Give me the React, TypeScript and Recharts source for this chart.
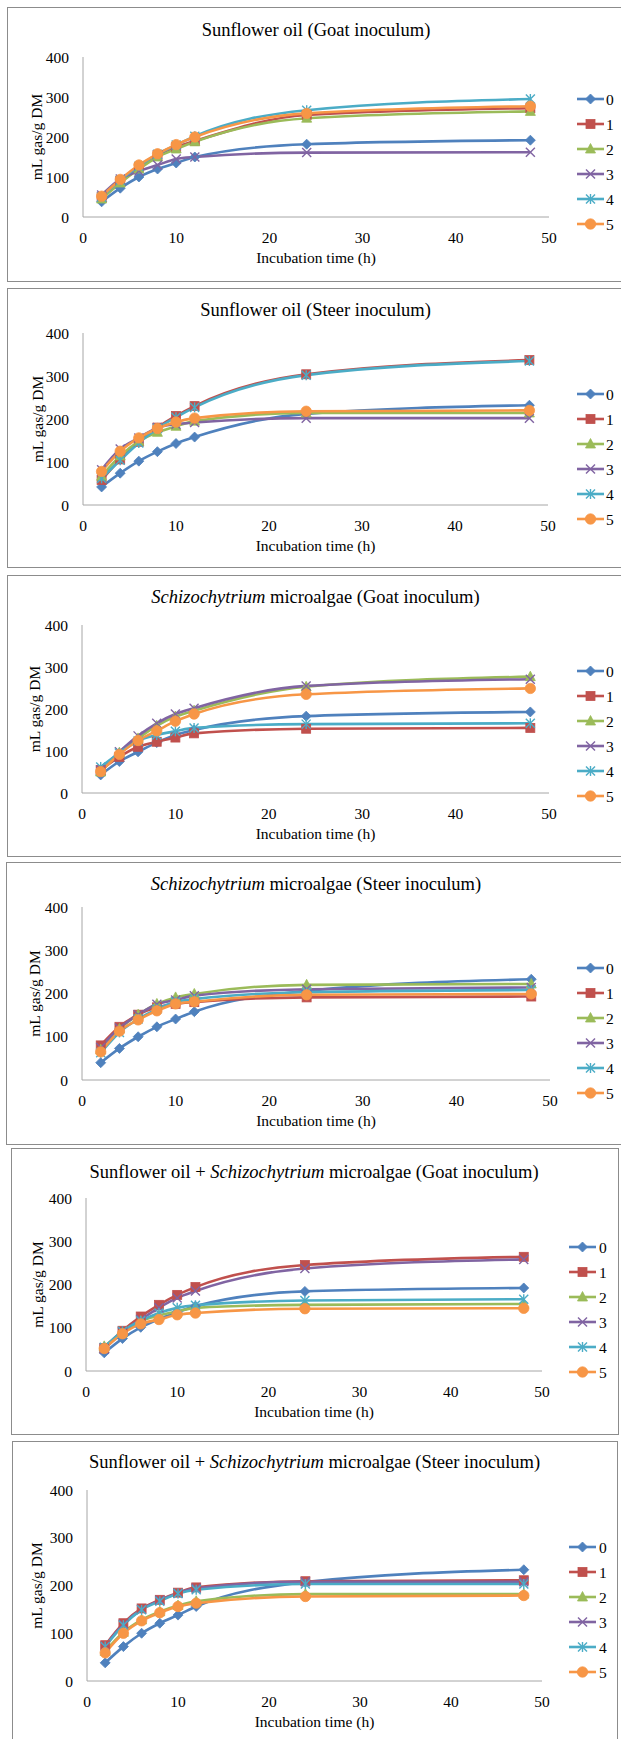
import React from 'react';
import { LineChart, Line, XAxis, YAxis } from 'recharts';

// ---------- data ----------
const HOURS = [2, 4, 6, 8, 10, 12, 24, 48];
const X_TICKS = [0, 10, 20, 30, 40, 50];
const Y_TICKS = [0, 100, 200, 300, 400];
const SERIES_NAMES = ['0', '1', '2', '3', '4', '5'];

// Sunflower oil (Goat inoculum)
const SO_GOAT_0 = [38, 72, 100, 120, 135, 150, 182, 192];
const SO_GOAT_1 = [50, 90, 125, 155, 175, 190, 255, 272];
const SO_GOAT_2 = [45, 85, 120, 150, 170, 188, 247, 264];
const SO_GOAT_3 = [55, 95, 115, 130, 145, 150, 161, 162];
const SO_GOAT_4 = [50, 92, 127, 157, 180, 202, 267, 295];
const SO_GOAT_5 = [52, 94, 130, 158, 181, 200, 259, 277];

// Sunflower oil (Steer inoculum)
const SO_STEER_0 = [42, 74, 102, 124, 143, 158, 212, 232];
const SO_STEER_1 = [58, 106, 147, 180, 207, 230, 304, 337];
const SO_STEER_2 = [67, 114, 148, 169, 183, 195, 214, 214];
const SO_STEER_3 = [82, 130, 156, 180, 188, 192, 202, 202];
const SO_STEER_4 = [62, 104, 144, 178, 204, 227, 302, 335];
const SO_STEER_5 = [78, 125, 156, 178, 193, 202, 218, 220];

// Schizochytrium microalgae (Goat inoculum)
const SC_GOAT_0 = [43, 75, 98, 120, 138, 150, 183, 193];
const SC_GOAT_1 = [55, 86, 110, 122, 132, 142, 153, 155];
const SC_GOAT_2 = [50, 96, 130, 160, 182, 196, 253, 277];
const SC_GOAT_3 = [55, 98, 136, 166, 188, 202, 255, 271];
const SC_GOAT_4 = [62, 95, 124, 138, 147, 155, 164, 166];
const SC_GOAT_5 = [51, 92, 125, 148, 171, 188, 235, 249];

// Schizochytrium microalgae (Steer inoculum)
const SC_STEER_0 = [40, 73, 100, 123, 141, 158, 206, 233];
const SC_STEER_1 = [80, 123, 151, 168, 176, 180, 191, 193];
const SC_STEER_2 = [70, 118, 151, 176, 191, 199, 220, 222];
const SC_STEER_3 = [75, 120, 151, 175, 185, 195, 210, 214];
const SC_STEER_4 = [63, 110, 141, 164, 181, 187, 203, 208];
const SC_STEER_5 = [65, 113, 139, 160, 176, 181, 197, 199];

// Sunflower oil + Schizochytrium microalgae (Goat inoculum)
const MIX_GOAT_0 = [42, 75, 101, 120, 136, 150, 184, 192];
const MIX_GOAT_1 = [53, 93, 126, 153, 176, 194, 245, 264];
const MIX_GOAT_2 = [57, 88, 115, 128, 138, 146, 153, 155];
const MIX_GOAT_3 = [50, 90, 119, 146, 169, 185, 237, 258];
const MIX_GOAT_4 = [55, 92, 116, 134, 146, 152, 163, 166];
const MIX_GOAT_5 = [52, 86, 109, 119, 130, 134, 144, 145];

// Sunflower oil + Schizochytrium microalgae (Steer inoculum)
const MIX_STEER_0 = [38, 72, 100, 121, 138, 156, 207, 233];
const MIX_STEER_1 = [75, 121, 152, 170, 185, 196, 209, 211];
const MIX_STEER_2 = [62, 102, 128, 145, 158, 167, 182, 182];
const MIX_STEER_3 = [73, 119, 150, 169, 184, 194, 208, 208];
const MIX_STEER_4 = [72, 117, 149, 167, 183, 191, 203, 203];
const MIX_STEER_5 = [59, 100, 126, 143, 156, 163, 177, 179];

// ---------- styles ----------
const COLORS = ['#4F81BD', '#C0504D', '#9BBB59', '#8064A2', '#4BACC6', '#F79646'];
const MARKERS = ['diamond', 'square', 'triangle', 'x', 'star', 'circle'];
const FONT = '"Liberation Serif", "Times New Roman", serif';
const AXIS = '#A6A6A6';
const BORDER = '#8C8C8C';

type Geo = {
  top: number; bottom: number; left: number; right: number;
  plotL: number; plotR: number; plotT: number; plotB: number;
  titleY: number; legX: number; legTextX: number; legY: number; yLabelX: number;
};

const buildRows = (series: number[][]) =>
  HOURS.map((t, i) => {
    const row: Record<string, number> = { t };
    series.forEach((s, k) => { row['s' + k] = s[i]; });
    return row;
  });

function Marker({ shape, cx, cy, color }: { shape: string; cx: number; cy: number; color: string }) {
  switch (shape) {
    case 'diamond':
      return <polygon points={`${cx},${cy - 5} ${cx + 5},${cy} ${cx},${cy + 5} ${cx - 5},${cy}`} fill={color} stroke={color} strokeWidth={0.8} />;
    case 'square':
      return <rect x={cx - 4.5} y={cy - 4.5} width={9} height={9} fill={color} stroke={color} strokeWidth={0.8} />;
    case 'triangle':
      return <polygon points={`${cx},${cy - 5.5} ${cx + 5},${cy + 4} ${cx - 5},${cy + 4}`} fill={color} stroke={color} strokeWidth={0.8} />;
    case 'x':
      return (
        <g stroke={color} strokeWidth={1.4}>
          <line x1={cx - 4.5} y1={cy - 4.5} x2={cx + 4.5} y2={cy + 4.5} />
          <line x1={cx - 4.5} y1={cy + 4.5} x2={cx + 4.5} y2={cy - 4.5} />
        </g>
      );
    case 'star':
      return (
        <g stroke={color} strokeWidth={1.4}>
          <line x1={cx - 4.5} y1={cy - 4.5} x2={cx + 4.5} y2={cy + 4.5} />
          <line x1={cx - 4.5} y1={cy + 4.5} x2={cx + 4.5} y2={cy - 4.5} />
          <line x1={cx} y1={cy - 5} x2={cx} y2={cy + 5} />
        </g>
      );
    default:
      return <circle cx={cx} cy={cy} r={5.2} fill={color} stroke={color} strokeWidth={0.8} />;
  }
}

const makeDot = (k: number) => (props: any) => {
  const { cx, cy, index } = props;
  if (cx == null || cy == null) return <g key={`d${k}-${index}`} />;
  return (
    <g key={`d${k}-${index}`}>
      <Marker shape={MARKERS[k]} cx={cx} cy={cy} color={COLORS[k]} />
    </g>
  );
};

function XTick(props: any) {
  const { x, y, payload } = props;
  return (
    <text x={x} y={y + 20} textAnchor="middle" dominantBaseline="central"
      style={{ fontFamily: FONT, fontSize: 15.5 }} fill="#000">{payload.value}</text>
  );
}

function YTick(props: any) {
  const { x, y, payload } = props;
  return (
    <text x={x} y={y} textAnchor="end" dominantBaseline="central"
      style={{ fontFamily: FONT, fontSize: 15.5 }} fill="#000">{payload.value}</text>
  );
}

function YLabel({ px, py }: { px: number; py: number }) {
  return (
    <text x={px} y={py} transform={`rotate(-90 ${px} ${py})`} textAnchor="middle" dominantBaseline="central"
      style={{ fontFamily: FONT, fontSize: 15.5 }} fill="#000">mL gas/g DM</text>
  );
}

function XLabel({ px, py }: { px: number; py: number }) {
  return (
    <text x={px} y={py} textAnchor="middle" dominantBaseline="central"
      style={{ fontFamily: FONT, fontSize: 15.5 }} fill="#000">Incubation time (h)</text>
  );
}

function Legend({ g }: { g: Geo }) {
  return (
    <svg style={{ position: 'absolute', left: 0, top: 0, overflow: 'visible' }} width={621} height={1}>
      {SERIES_NAMES.map((name, k) => {
        const y = g.legY + k * 25;
        return (
          <g key={name}>
            <line x1={g.legX} y1={y} x2={g.legX + 27} y2={y} stroke={COLORS[k]} strokeWidth={2.6} />
            <Marker shape={MARKERS[k]} cx={g.legX + 13.5} cy={y} color={COLORS[k]} />
            <text x={g.legTextX} y={y} dominantBaseline="central" style={{ fontFamily: FONT, fontSize: 15.5 }} fill="#000">{name}</text>
          </g>
        );
      })}
    </svg>
  );
}

function Panel({ g, title, series }: { g: Geo; title: React.ReactNode; series: number[][] }) {
  const h = g.bottom - g.top;
  const rows = buildRows(series);
  const xAxisH = 30;
  const yAxisW = 40;
  return (
    <>
      <div style={{
        position: 'absolute', left: g.left, top: g.top, width: g.right - g.left, height: h,
        border: `1px solid ${BORDER}`, boxSizing: 'border-box', background: '#fff',
      }} />
      <div style={{
        position: 'absolute', left: g.plotL - 300 + (g.plotR - g.plotL) / 2, top: g.titleY - 11, width: 600,
        textAlign: 'center', fontFamily: FONT, fontSize: 18.5, lineHeight: '22px', color: '#000', whiteSpace: 'nowrap',
      }}>{title}</div>
      <div style={{ position: 'absolute', left: 0, top: g.top, width: 621, height: h }}>
        <LineChart width={621} height={h} data={rows} style={{ fontFamily: FONT }}
          margin={{ top: g.plotT - g.top, bottom: g.bottom - g.plotB - xAxisH, left: g.plotL - yAxisW, right: 621 - g.plotR }}>
          <XAxis dataKey="t" type="number" domain={[0, 50]} ticks={X_TICKS} height={xAxisH}
            tickLine={false} axisLine={{ stroke: AXIS, strokeWidth: 1 }} tickSize={0} tickMargin={0}
            tick={<XTick />} interval={0}
            label={<XLabel px={(g.plotL + g.plotR) / 2} py={g.plotB - g.top + 40} />} />
          <YAxis type="number" domain={[0, 400]} ticks={Y_TICKS} width={yAxisW}
            tickLine={false} axisLine={{ stroke: AXIS, strokeWidth: 1 }} tickSize={6} tickMargin={8}
            tick={<YTick />} interval={0}
            label={<YLabel px={g.yLabelX} py={(g.plotT + g.plotB) / 2 - g.top} />} />
          {series.map((_, k) => (
            <Line key={k} type="monotone" dataKey={'s' + k} name={SERIES_NAMES[k]} stroke={COLORS[k]}
              strokeWidth={2.6} dot={makeDot(k)} activeDot={false} isAnimationActive={false} />
          ))}
        </LineChart>
      </div>
      <div style={{ position: 'absolute', left: 0, top: 0 }}>
        <Legend g={g} />
      </div>
    </>
  );
}

const G1: Geo = { top: 7, bottom: 282, left: 7, right: 630, plotL: 83, plotR: 549, plotT: 57, plotB: 217, titleY: 30, legX: 577, legTextX: 606, legY: 99, yLabelX: 36 };
const G2: Geo = { top: 288, bottom: 568, left: 7, right: 630, plotL: 83, plotR: 548, plotT: 333, plotB: 505, titleY: 310, legX: 577, legTextX: 606, legY: 394, yLabelX: 37 };
const G3: Geo = { top: 575, bottom: 857, left: 7, right: 630, plotL: 82, plotR: 549, plotT: 625, plotB: 793, titleY: 597, legX: 577, legTextX: 606, legY: 671, yLabelX: 34 };
const G4: Geo = { top: 862, bottom: 1145, left: 6, right: 630, plotL: 82, plotR: 550, plotT: 907, plotB: 1080, titleY: 884, legX: 577, legTextX: 606, legY: 968, yLabelX: 34 };
const G5: Geo = { top: 1148, bottom: 1435, left: 11, right: 619, plotL: 86, plotR: 542, plotT: 1198, plotB: 1371, titleY: 1172, legX: 569, legTextX: 599, legY: 1247, yLabelX: 37 };
const G6: Geo = { top: 1441, bottom: 1750, left: 12, right: 618, plotL: 87, plotR: 542, plotT: 1490, plotB: 1681, titleY: 1462, legX: 569, legTextX: 599, legY: 1547, yLabelX: 36 };

export default function App() {
  return (
    <div style={{ position: 'absolute', left: 0, top: 0, width: 621, height: 1739, overflow: 'hidden', background: '#fff' }}>
      <Panel g={G1} title={<>Sunflower oil (Goat inoculum)</>}
        series={[SO_GOAT_0, SO_GOAT_1, SO_GOAT_2, SO_GOAT_3, SO_GOAT_4, SO_GOAT_5]} />
      <Panel g={G2} title={<>Sunflower oil (Steer inoculum)</>}
        series={[SO_STEER_0, SO_STEER_1, SO_STEER_2, SO_STEER_3, SO_STEER_4, SO_STEER_5]} />
      <Panel g={G3} title={<><i>Schizochytrium</i> microalgae (Goat inoculum)</>}
        series={[SC_GOAT_0, SC_GOAT_1, SC_GOAT_2, SC_GOAT_3, SC_GOAT_4, SC_GOAT_5]} />
      <Panel g={G4} title={<><i>Schizochytrium</i> microalgae (Steer inoculum)</>}
        series={[SC_STEER_0, SC_STEER_1, SC_STEER_2, SC_STEER_3, SC_STEER_4, SC_STEER_5]} />
      <Panel g={G5} title={<>Sunflower oil + <i>Schizochytrium</i> microalgae (Goat inoculum)</>}
        series={[MIX_GOAT_0, MIX_GOAT_1, MIX_GOAT_2, MIX_GOAT_3, MIX_GOAT_4, MIX_GOAT_5]} />
      <Panel g={G6} title={<>Sunflower oil + <i>Schizochytrium</i> microalgae (Steer inoculum)</>}
        series={[MIX_STEER_0, MIX_STEER_1, MIX_STEER_2, MIX_STEER_3, MIX_STEER_4, MIX_STEER_5]} />
    </div>
  );
}
